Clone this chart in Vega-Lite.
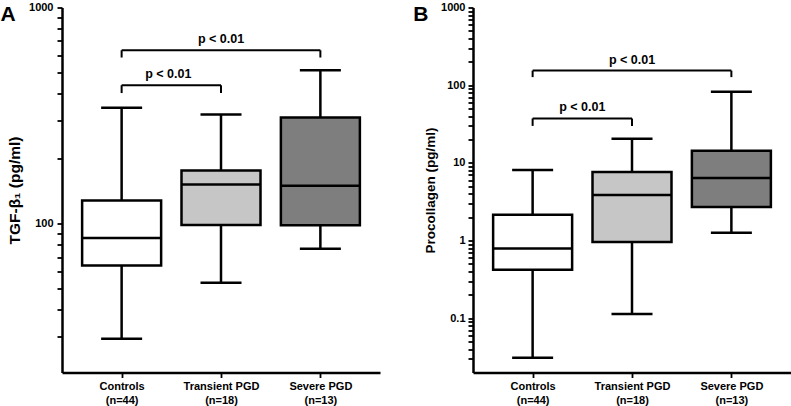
{
  "$schema": "https://vega.github.io/schema/vega-lite/v6.json",
  "padding": {"left": 0, "top": 1.5, "right": 0, "bottom": 0},
  "spacing": 33,
  "config": {
    "view": {"stroke": null},
    "font": "Liberation Sans",
    "axis": {
      "grid": false,
      "domainColor": "black",
      "domainWidth": 2.5,
      "tickColor": "black",
      "tickWidth": 1.8,
      "tickSize": 5,
      "labelFont": "Liberation Sans",
      "labelFontWeight": "bold",
      "labelColor": "black",
      "labelFontSize": 11,
      "labelOverlap": false,
      "labelBound": false,
      "labelFlush": false,
      "titleFont": "Liberation Sans",
      "titleFontWeight": "bold",
      "titleColor": "black",
      "titleFontSize": 14
    }
  },
  "datasets": {
    "boxA": [
      {"group": "Controls", "pos": 1, "min": 29.4, "q1": 64.1, "median": 85.8, "q3": 128, "max": 344},
      {"group": "Transient PGD", "pos": 2, "min": 53.3, "q1": 98.5, "median": 152, "q3": 176, "max": 320},
      {"group": "Severe PGD", "pos": 3, "min": 76.6, "q1": 98.3, "median": 150, "q3": 310, "max": 513}
    ],
    "boxB": [
      {"group": "Controls", "pos": 1, "min": 0.031, "q1": 0.42, "median": 0.79, "q3": 2.15, "max": 8.1},
      {"group": "Transient PGD", "pos": 2, "min": 0.113, "q1": 0.96, "median": 3.86, "q3": 7.65, "max": 20.4},
      {"group": "Severe PGD", "pos": 3, "min": 1.26, "q1": 2.7, "median": 6.4, "q3": 14.3, "max": 82}
    ],
    "brA": [
      {"x1": 1, "x2": 3, "y": 634, "yleg": 587, "xm": 2, "ylab": 713, "label": "p < 0.01"},
      {"x1": 1, "x2": 2, "y": 437, "yleg": 402, "xm": 1.47, "ylab": 491, "label": "p < 0.01"}
    ],
    "brB": [
      {"x1": 1, "x2": 3, "y": 154, "yleg": 127, "xm": 2, "ylab": 214, "label": "p < 0.01"},
      {"x1": 1, "x2": 2, "y": 37.3, "yleg": 29.9, "xm": 1.5, "ylab": 51.9, "label": "p < 0.01"}
    ],
    "panelA": [{"panel": "A"}],
    "panelB": [{"panel": "B"}]
  },
  "hconcat": [
    {
      "width": 318,
      "height": 365,
      "layer": [
        {
          "data": {"name": "boxA"},
          "mark": {"type": "rule", "color": "black", "strokeWidth": 2.5},
          "encoding": {
            "x": {"field": "pos", "type": "quantitative", "scale": {"domain": [0.4, 3.6], "nice": false, "zero": false, "padding": 0},
              "axis": {"title": null, "values": [1, 2, 3], "labelPadding": 3, "labelLineHeight": 14, "labelBaseline": "top",
                "labelExpr": "datum.value == 1 ? ['Controls', '(n=44)'] : datum.value == 2 ? ['Transient PGD', '(n=18)'] : ['Severe PGD', '(n=13)']"}},
            "y": {"field": "min", "type": "quantitative", "scale": {"type": "log", "domain": [20.5, 1000], "nice": false},
              "axis": {"title": "TGF-β₁ (pg/ml)", "titleFontSize": 15.5, "titlePadding": 6, "labelPadding": 4, "format": "~g",
                "values": [30, 40, 50, 60, 70, 80, 90, 100, 200, 300, 400, 500, 600, 700, 800, 900, 1000],
                "labelExpr": "indexof([0.1, 1, 10, 100, 1000], datum.value) >= 0 ? datum.label : ''"}},
            "y2": {"field": "max"}
          }
        },
        {
          "data": {"name": "boxA"},
          "mark": {"type": "bar", "size": 79, "stroke": "black", "strokeWidth": 2.5},
          "encoding": {
            "x": {"field": "pos", "type": "quantitative"},
            "y": {"field": "q1", "type": "quantitative"},
            "y2": {"field": "q3"},
            "color": {"field": "group", "type": "nominal", "scale": {"domain": ["Controls", "Transient PGD", "Severe PGD"], "range": ["#ffffff", "#c6c6c6", "#7e7e7e"]}, "legend": null}
          }
        },
        {
          "data": {"name": "boxA"},
          "mark": {"type": "tick", "orient": "horizontal", "size": 79, "thickness": 2.5, "color": "black", "opacity": 1},
          "encoding": {"x": {"field": "pos", "type": "quantitative"}, "y": {"field": "median", "type": "quantitative"}}
        },
        {
          "data": {"name": "boxA"},
          "mark": {"type": "tick", "orient": "horizontal", "size": 41, "thickness": 2.5, "color": "black", "opacity": 1},
          "encoding": {"x": {"field": "pos", "type": "quantitative"}, "y": {"field": "min", "type": "quantitative"}}
        },
        {
          "data": {"name": "boxA"},
          "mark": {"type": "tick", "orient": "horizontal", "size": 41, "thickness": 2.5, "color": "black", "opacity": 1},
          "encoding": {"x": {"field": "pos", "type": "quantitative"}, "y": {"field": "max", "type": "quantitative"}}
        },
        {
          "data": {"name": "brA"},
          "mark": {"type": "rule", "color": "black", "strokeWidth": 2},
          "encoding": {"x": {"field": "x1", "type": "quantitative"}, "x2": {"field": "x2"}, "y": {"field": "y", "type": "quantitative"}}
        },
        {
          "data": {"name": "brA"},
          "mark": {"type": "rule", "color": "black", "strokeWidth": 2},
          "encoding": {"x": {"field": "x1", "type": "quantitative"}, "y": {"field": "y", "type": "quantitative"}, "y2": {"field": "yleg"}}
        },
        {
          "data": {"name": "brA"},
          "mark": {"type": "rule", "color": "black", "strokeWidth": 2},
          "encoding": {"x": {"field": "x2", "type": "quantitative"}, "y": {"field": "y", "type": "quantitative"}, "y2": {"field": "yleg"}}
        },
        {
          "data": {"name": "brA"},
          "mark": {"type": "text", "font": "Liberation Sans", "fontWeight": "bold", "fontSize": 12.5, "color": "black", "baseline": "middle", "align": "center"},
          "encoding": {"x": {"field": "xm", "type": "quantitative"}, "y": {"field": "ylab", "type": "quantitative"}, "text": {"field": "label"}}
        },
        {
          "data": {"name": "panelA"},
          "mark": {"type": "text", "font": "Liberation Sans", "fontWeight": "bold", "fontSize": 21, "color": "black", "baseline": "alphabetic", "align": "left", "dx": -61.5, "dy": 13.5},
          "encoding": {"x": {"datum": 0.4, "type": "quantitative"}, "y": {"datum": 1000, "type": "quantitative"}, "text": {"field": "panel"}}
        }
      ]
    },
    {
      "width": 318,
      "height": 365,
      "layer": [
        {
          "data": {"name": "boxB"},
          "mark": {"type": "rule", "color": "black", "strokeWidth": 2.5},
          "encoding": {
            "x": {"field": "pos", "type": "quantitative", "scale": {"domain": [0.4, 3.6], "nice": false, "zero": false, "padding": 0},
              "axis": {"title": null, "values": [1, 2, 3], "labelPadding": 3, "labelLineHeight": 14, "labelBaseline": "top",
                "labelExpr": "datum.value == 1 ? ['Controls', '(n=44)'] : datum.value == 2 ? ['Transient PGD', '(n=18)'] : ['Severe PGD', '(n=13)']"}},
            "y": {"field": "min", "type": "quantitative", "scale": {"type": "log", "domain": [0.02, 1000], "nice": false},
              "axis": {"title": "Procollagen (pg/ml)", "titleFontSize": 13.5, "titlePadding": 3, "labelPadding": 3, "format": "~g",
                "values": [0.03, 0.04, 0.05, 0.06, 0.07, 0.08, 0.09, 0.1, 0.2, 0.3, 0.4, 0.5, 0.6, 0.7, 0.8, 0.9, 1, 2, 3, 4, 5, 6, 7, 8, 9, 10, 20, 30, 40, 50, 60, 70, 80, 90, 100, 200, 300, 400, 500, 600, 700, 800, 900, 1000],
                "labelExpr": "indexof([0.1, 1, 10, 100, 1000], datum.value) >= 0 ? datum.label : ''"}},
            "y2": {"field": "max"}
          }
        },
        {
          "data": {"name": "boxB"},
          "mark": {"type": "bar", "size": 79, "stroke": "black", "strokeWidth": 2.5},
          "encoding": {
            "x": {"field": "pos", "type": "quantitative"},
            "y": {"field": "q1", "type": "quantitative"},
            "y2": {"field": "q3"},
            "color": {"field": "group", "type": "nominal", "scale": {"domain": ["Controls", "Transient PGD", "Severe PGD"], "range": ["#ffffff", "#c6c6c6", "#7e7e7e"]}, "legend": null}
          }
        },
        {
          "data": {"name": "boxB"},
          "mark": {"type": "tick", "orient": "horizontal", "size": 79, "thickness": 2.5, "color": "black", "opacity": 1},
          "encoding": {"x": {"field": "pos", "type": "quantitative"}, "y": {"field": "median", "type": "quantitative"}}
        },
        {
          "data": {"name": "boxB"},
          "mark": {"type": "tick", "orient": "horizontal", "size": 41, "thickness": 2.5, "color": "black", "opacity": 1},
          "encoding": {"x": {"field": "pos", "type": "quantitative"}, "y": {"field": "min", "type": "quantitative"}}
        },
        {
          "data": {"name": "boxB"},
          "mark": {"type": "tick", "orient": "horizontal", "size": 41, "thickness": 2.5, "color": "black", "opacity": 1},
          "encoding": {"x": {"field": "pos", "type": "quantitative"}, "y": {"field": "max", "type": "quantitative"}}
        },
        {
          "data": {"name": "brB"},
          "mark": {"type": "rule", "color": "black", "strokeWidth": 2},
          "encoding": {"x": {"field": "x1", "type": "quantitative"}, "x2": {"field": "x2"}, "y": {"field": "y", "type": "quantitative"}}
        },
        {
          "data": {"name": "brB"},
          "mark": {"type": "rule", "color": "black", "strokeWidth": 2},
          "encoding": {"x": {"field": "x1", "type": "quantitative"}, "y": {"field": "y", "type": "quantitative"}, "y2": {"field": "yleg"}}
        },
        {
          "data": {"name": "brB"},
          "mark": {"type": "rule", "color": "black", "strokeWidth": 2},
          "encoding": {"x": {"field": "x2", "type": "quantitative"}, "y": {"field": "y", "type": "quantitative"}, "y2": {"field": "yleg"}}
        },
        {
          "data": {"name": "brB"},
          "mark": {"type": "text", "font": "Liberation Sans", "fontWeight": "bold", "fontSize": 12.5, "color": "black", "baseline": "middle", "align": "center"},
          "encoding": {"x": {"field": "xm", "type": "quantitative"}, "y": {"field": "ylab", "type": "quantitative"}, "text": {"field": "label"}}
        },
        {
          "data": {"name": "panelB"},
          "mark": {"type": "text", "font": "Liberation Sans", "fontWeight": "bold", "fontSize": 21, "color": "black", "baseline": "alphabetic", "align": "left", "dx": -59.7, "dy": 13.5},
          "encoding": {"x": {"datum": 0.4, "type": "quantitative"}, "y": {"datum": 1000, "type": "quantitative"}, "text": {"field": "panel"}}
        }
      ]
    }
  ]
}
